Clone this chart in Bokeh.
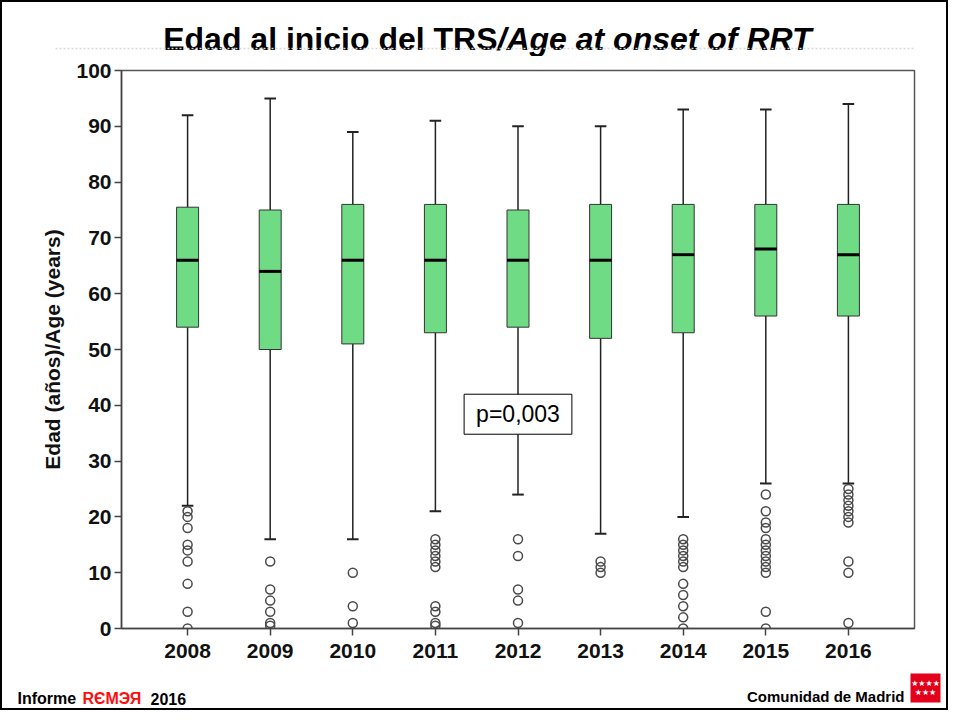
from bokeh.plotting import figure
from bokeh.models import FactorRange, Label, ColumnDataSource, FixedTicker, Range1d
from bokeh.transform import dodge
from bokeh.layouts import column
from bokeh.core.properties import value
from bokeh.embed import file_html
from bokeh.resources import INLINE

years = ["2008", "2009", "2010", "2011", "2012", "2013", "2014", "2015", "2016"]
upper = [92, 95, 89, 91, 90, 90, 93, 93, 94]
q3 = [75.5, 75, 76, 76, 75, 76, 76, 76, 76]
median = [66, 64, 66, 66, 66, 66, 67, 68, 67]
q1 = [54, 50, 51, 53, 54, 52, 53, 56, 56]
lower = [22, 16, 16, 21, 24, 17, 20, 26, 26]

outliers = {
    "2008": [21, 20, 18, 15, 14, 12, 8, 3, 0],
    "2009": [12, 7, 5, 3, 1, 0.5],
    "2010": [10, 4, 1],
    "2011": [16, 15, 14, 13, 12, 11, 4, 3, 1, 0.5],
    "2012": [16, 13, 7, 5, 1],
    "2013": [12, 11, 10],
    "2014": [16, 15, 14, 13, 12, 11, 8, 6, 4, 2, 0],
    "2015": [24, 21, 19, 18, 16, 15, 14, 13, 12, 11, 10, 3, 0],
    "2016": [25, 24, 23, 22, 21, 20, 19, 12, 10, 1],
}
y_ticks = [0, 10, 20, 30, 40, 50, 60, 70, 80, 90, 100]

FONT = "Liberation Sans"
W = 944
BOX_W = 0.266
CAP_W = 0.14


def strip(h):
    s = figure(width=W, height=h, x_range=Range1d(0, W), y_range=Range1d(h, 0),
               x_axis_type=None, y_axis_type=None, toolbar_location=None,
               output_backend="svg", min_border=0)
    s.outline_line_color = None
    s.background_fill_color = "white"
    s.border_fill_color = "white"
    return s


# ---------------- title strip ----------------
TH = 54
t = strip(TH)
t.text(x=[495], y=[36], text=["Edad al inicio del TRS"], text_align="right",
       text_baseline="alphabetic", text_font=value(FONT), text_font_style="bold",
       text_font_size="32px", text_color="black")
t.text(x=[495], y=[36], text=["/Age at onset of RRT"], text_align="left",
       text_baseline="alphabetic", text_font=value(FONT), text_font_style="bold italic",
       text_font_size="32px", text_color="black")
t.segment(x0=[53], y0=[46], x1=[913], y1=[46], line_color="#d8d8d8", line_width=1.5,
          line_dash="2 2")

# ---------------- main box plot ----------------
src = ColumnDataSource(dict(year=years, upper=upper, q3=q3, median=median, q1=q1, lower=lower))
out_x = [y for y in years for _ in outliers[y]]
out_y = [v for y in years for v in outliers[y]]

MH = 612
p = figure(
    x_range=FactorRange(factors=years, range_padding=0.0667),
    y_range=(0, 100),
    width=W, height=MH,
    output_backend="svg", toolbar_location=None,
    min_border_left=119, min_border_right=32, min_border_top=14, min_border_bottom=40,
)
p.background_fill_color = "white"
p.border_fill_color = "white"
p.outline_line_color = "#555555"
p.outline_line_width = 1.5
p.xgrid.grid_line_color = None
p.ygrid.grid_line_color = None

p.segment(x0="year", y0="q3", x1="year", y1="upper", source=src, line_color="#222222", line_width=1.5)
p.segment(x0="year", y0="q1", x1="year", y1="lower", source=src, line_color="#222222", line_width=1.5)
p.segment(x0=dodge("year", -CAP_W / 2, range=p.x_range), y0="upper",
          x1=dodge("year", CAP_W / 2, range=p.x_range), y1="upper", source=src,
          line_color="#222222", line_width=2)
p.segment(x0=dodge("year", -CAP_W / 2, range=p.x_range), y0="lower",
          x1=dodge("year", CAP_W / 2, range=p.x_range), y1="lower", source=src,
          line_color="#222222", line_width=2)
p.vbar(x="year", width=BOX_W, bottom="q1", top="q3", source=src,
       fill_color="#6fdc85", line_color="#333333", line_width=1)
p.segment(x0=dodge("year", -BOX_W / 2, range=p.x_range), y0="median",
          x1=dodge("year", BOX_W / 2, range=p.x_range), y1="median", source=src,
          line_color="black", line_width=3)
p.scatter(x=out_x, y=out_y, marker="circle", size=9, fill_color=None,
          line_color="#4a4a4a", line_width=1.5)

for ax in (p.xaxis, p.yaxis):
    ax.major_label_text_font = FONT
    ax.major_label_text_font_style = "bold"
    ax.major_label_text_font_size = "21px"
    ax.major_label_text_color = "#111111"
    ax.axis_line_color = "#444444"
    ax.axis_line_width = 1.5
    ax.major_tick_line_color = "#444444"
    ax.major_tick_line_width = 1.5
    ax.major_tick_in = 0
    ax.major_tick_out = 7
    ax.minor_tick_line_color = None
p.yaxis.ticker = FixedTicker(ticks=y_ticks)
p.yaxis.major_label_standoff = 3
p.xaxis.major_label_standoff = 8
p.yaxis.axis_label = "Edad (años)/Age (years)"
p.yaxis.axis_label_text_font = FONT
p.yaxis.axis_label_text_font_style = "bold"
p.yaxis.axis_label_text_font_size = "21px"
p.yaxis.axis_label_text_color = "#111111"
p.yaxis.axis_label_standoff = 9

p.add_layout(Label(x=4.5, y=38.4, text="p=0,003", text_align="center",
                   text_baseline="middle", text_font=FONT, text_font_size="23px",
                   text_color="black", background_fill_color="white",
                   border_line_color="black", border_line_width=1, padding=(12, 7)))

# ---------------- footer strip ----------------
FH = 706 - TH - MH
f = strip(FH)
f.text(x=[15], y=[30], text=["Informe"], text_baseline="alphabetic",
       text_font=value(FONT), text_font_style="bold", text_font_size="16px", text_color="black")
f.text(x=[80], y=[30], text=["RЄMЭЯ"], text_baseline="alphabetic",
       text_font=value(FONT), text_font_style="bold", text_font_size="16px", text_color="#ff0d0d")
f.text(x=[148], y=[30], text=["2016"], text_baseline="alphabetic",
       text_font=value(FONT), text_font_style="bold", text_font_size="16px", text_color="black")
f.text(x=[902], y=[28], text=["Comunidad de Madrid"], text_align="right",
       text_baseline="alphabetic", text_font=value(FONT), text_font_style="bold",
       text_font_size="15px", text_color="black")
f.quad(left=[908], right=[938], top=[5], bottom=[34], fill_color="#e2001a", line_color=None)
f.text(x=[923, 923], y=[15, 24], text=["★★★★", "★★★"], text_align="center",
       text_baseline="middle", text_font=value("DejaVu Sans"), text_font_size="8px",
       text_color="white")

layout = column(column(t), p, column(f), spacing=0)
layout.styles = {"border": "2px solid black"}

open("out.html", "w").write(file_html(layout, INLINE))
